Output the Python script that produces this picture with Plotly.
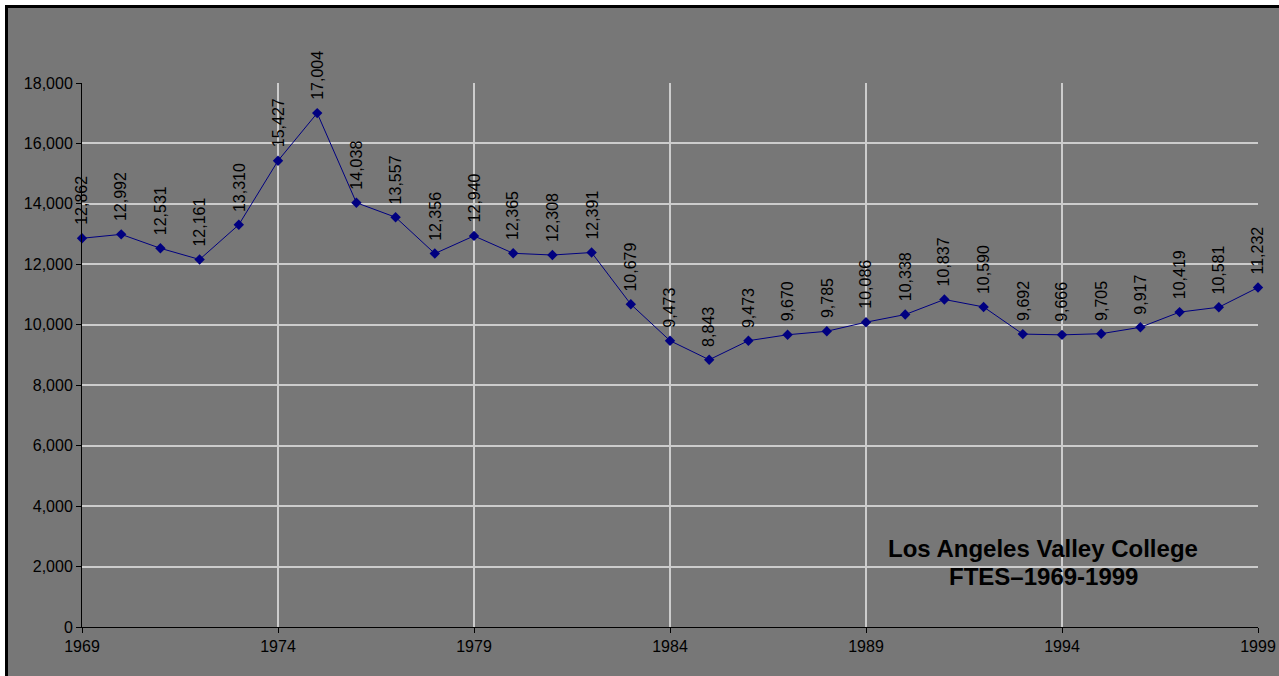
import plotly.graph_objects as go

years = list(range(1969, 2000))
ftes = [12862, 12992, 12531, 12161, 13310, 15427, 17004, 14038, 13557, 12356,
        12940, 12365, 12308, 12391, 10679, 9473, 8843, 9473, 9670, 9785,
        10086, 10338, 10837, 10590, 9692, 9666, 9705, 9917, 10419, 10581, 11232]
title_lines = ["Los Angeles Valley College", "FTES\u20131969-1999"]

BG = "#777777"
FONT = "Arial, Liberation Sans, sans-serif"
L, R, T, B = 82, 21, 83, 49
W, H = 1279, 676
pw, ph = W - L - R, H - T - B

fig = go.Figure()
fig.add_trace(go.Scatter(
    x=years, y=ftes, mode="lines+markers",
    line=dict(color="#000080", width=1),
    marker=dict(symbol="diamond", size=8, color="#000080"),
    hoverinfo="x+y", showlegend=False, cliponaxis=False,
))

annotations = []
for yr, v in zip(years, ftes):
    annotations.append(dict(
        x=yr, y=v, xref="x", yref="y", text=f"{v:,}", showarrow=False,
        textangle=-90, xanchor="center", yanchor="bottom", yshift=11,
        font=dict(family=FONT, size=16, color="black"),
    ))
for i, (line, py) in enumerate(zip(title_lines, [548, 576])):
    annotations.append(dict(
        x=(1043 - L) / pw, y=(H - B - py) / ph, xref="paper", yref="paper",
        text=f"<b>{line}</b>", showarrow=False, xanchor="center", yanchor="middle",
        font=dict(family=FONT, size=24, color="black"),
    ))

fig.update_layout(
    width=W, height=H,
    margin=dict(l=L, r=R, t=T, b=B, autoexpand=False),
    paper_bgcolor="white",
    plot_bgcolor="rgba(0,0,0,0)",
    annotations=annotations,
    shapes=[dict(
        type="rect", xref="paper", yref="paper", layer="below",
        x0=(6.5 - L) / pw, x1=1.2, y0=-0.3, y1=(H - B - 6.5) / ph,
        fillcolor=BG, line=dict(color="black", width=3),
    )],
    font=dict(family=FONT, size=16, color="black"),
)
fig.update_xaxes(
    range=[1969, 1999], tick0=1969, dtick=5, showgrid=True, automargin=False,
    gridcolor="#cccccc", gridwidth=2, showline=True, linecolor="black",
    linewidth=1, ticks="outside", ticklen=5, tickcolor="black",
    zeroline=False, tickfont=dict(size=16),
)
fig.update_yaxes(
    range=[0, 18000], dtick=2000, tickformat=",", showgrid=True, automargin=False,
    gridcolor="#cccccc", gridwidth=2, showline=True, linecolor="black",
    linewidth=1, ticks="outside", ticklen=5, tickcolor="black",
    zeroline=False, tickfont=dict(size=16),
)
fig.write_html("out.html", config={"displayModeBar": False})

with open("out.html", "r", encoding="utf-8") as f:
    html = f.read()
html = html.replace("<head>", "<head><style>html,body{margin:0;padding:0;overflow:hidden}</style>", 1)
with open("out.html", "w", encoding="utf-8") as f:
    f.write(html)
